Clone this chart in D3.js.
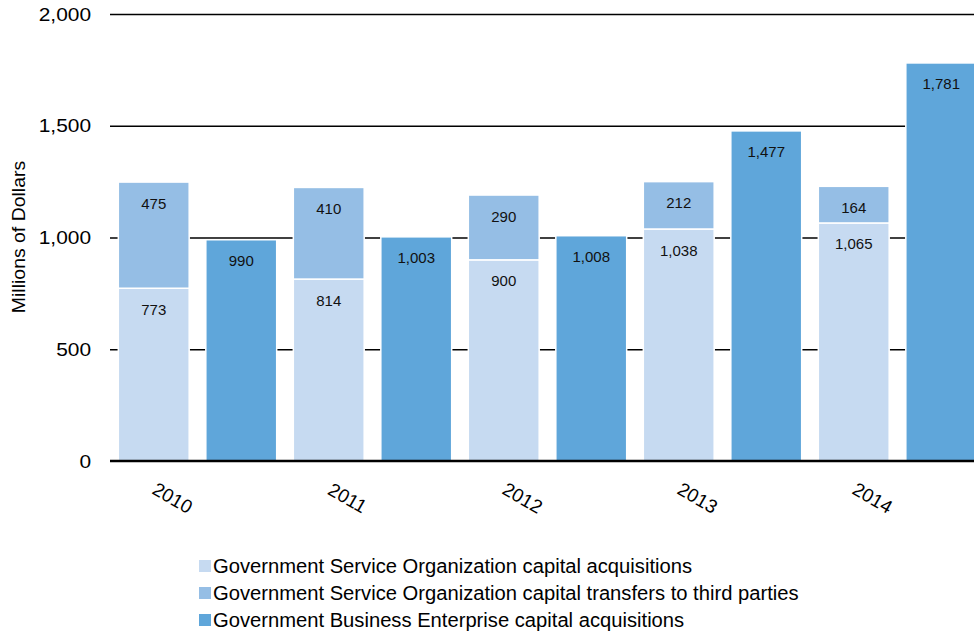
<!DOCTYPE html>
<html>
<head>
<meta charset="utf-8">
<script src="https://cdn.jsdelivr.net/npm/d3@7"></script>
<style>
  body { margin: 0; background: #fff; }
  svg { display: block; font-family: "Liberation Sans", Arial, sans-serif; }
</style>
</head>
<body>
<div id="chart"></div>
<script>
// chart data
const years = ["2010", "2011", "2012", "2013", "2014"];
const gsoAcquisitions = [773, 814, 900, 1038, 1065];
const gsoTransfers = [475, 410, 290, 212, 164];
const gbeAcquisitions = [990, 1003, 1008, 1477, 1781];
const yTicks = [0, 500, 1000, 1500, 2000];
const legendLabels = [
    "Government Service Organization capital acquisitions",
    "Government Service Organization capital transfers to third parties",
    "Government Business Enterprise capital acquisitions"
];
const colors = ["#c6daf1", "#95bee5", "#5fa6da"];

const width = 974, height = 634;

// the original text is set a bit wider than Liberation Sans, stretch it to match
function fit(sel, factor) {
    sel.each(function () {
        const w = this.getComputedTextLength();
        d3.select(this)
            .attr("textLength", w * factor)
            .attr("lengthAdjust", "spacingAndGlyphs");
    });
}

const svg = d3.select("#chart")
    .append("svg")
    .attr("width", width)
    .attr("height", height);

// scales
const x = d3.scaleBand()
    .domain(years)
    .range([110, 985]);

const xInner = d3.scaleBand()
    .domain(["stack", "gbe"])
    .range([0, x.bandwidth()])
    .paddingInner(0.19)
    .paddingOuter(0.095);

const y = d3.scaleLinear()
    .domain([0, 2000])
    .range([461, 14]);

const fmt = d3.format(",");

// gridlines + tick labels
const yAxis = d3.axisLeft(y)
    .tickValues(yTicks)
    .tickFormat(fmt)
    .tickSize(-(width - 110))
    .tickPadding(19);

const gy = svg.append("g")
    .attr("transform", "translate(110,0)")
    .call(yAxis);
gy.select(".domain").remove();
gy.selectAll(".tick line")
    .attr("stroke", "#000")
    .attr("stroke-width", 1.5)
    .filter(d => d === 0).remove();
gy.selectAll(".tick text")
    .attr("font-size", 19)
    .attr("fill", "#000")
    .attr("font-family", "Liberation Sans, Arial, sans-serif")
    .call(fit, 1.1);

// y axis title
svg.append("text")
    .attr("transform", "translate(25,237) rotate(-90)")
    .attr("text-anchor", "middle")
    .attr("font-size", 18)
    .attr("fill", "#000")
    .text("Millions of Dollars")
    .call(fit, 1.08);

// stacked bars
const rows = years.map((yr, i) => ({ year: yr, acq: gsoAcquisitions[i], trans: gsoTransfers[i], gbe: gbeAcquisitions[i] }));
const stack = d3.stack().keys(["acq", "trans"])(rows);

const groups = svg.selectAll("g.series")
    .data(stack)
    .enter().append("g")
    .attr("class", "series")
    .attr("fill", (d, i) => colors[i]);

groups.selectAll("rect")
    .data(d => d)
    .enter().append("rect")
    .attr("x", d => x(d.data.year) + xInner("stack"))
    .attr("y", d => y(d[1]))
    .attr("width", xInner.bandwidth())
    .attr("height", d => y(d[0]) - y(d[1]))
    .attr("stroke", "#fff")
    .attr("stroke-width", 1.5);

groups.selectAll("text")
    .data(d => d.map(v => ({ v, key: d.key })))
    .enter().append("text")
    .attr("x", d => x(d.v.data.year) + xInner("stack") + xInner.bandwidth() / 2)
    .attr("y", d => y(d.v[1]) + 26.5)
    .attr("text-anchor", "middle")
    .attr("font-size", 15)
    .attr("fill", "#111")
    .text(d => fmt(d.v.data[d.key]));

// GBE bars
svg.selectAll("rect.gbe")
    .data(rows)
    .enter().append("rect")
    .attr("class", "gbe")
    .attr("x", d => x(d.year) + xInner("gbe"))
    .attr("y", d => y(d.gbe))
    .attr("width", xInner.bandwidth())
    .attr("height", d => y(0) - y(d.gbe))
    .attr("fill", colors[2])
    .attr("stroke", "#fff")
    .attr("stroke-width", 1.5);

svg.selectAll("text.gbe-label")
    .data(rows)
    .enter().append("text")
    .attr("class", "gbe-label")
    .attr("x", d => x(d.year) + xInner("gbe") + xInner.bandwidth() / 2)
    .attr("y", d => y(d.gbe) + 26.5)
    .attr("text-anchor", "middle")
    .attr("font-size", 15)
    .attr("fill", "#111")
    .text(d => fmt(d.gbe));

// baseline
svg.append("line")
    .attr("x1", 110).attr("x2", width)
    .attr("y1", y(0)).attr("y2", y(0))
    .attr("stroke", "#000")
    .attr("stroke-width", 2.5);

// year labels, rotated
svg.selectAll("text.year")
    .data(years)
    .enter().append("text")
    .attr("class", "year")
    .attr("transform", d => `translate(${x(d) + x.bandwidth() / 2 - 25},498) rotate(30)`)
    .attr("text-anchor", "middle")
    .attr("dominant-baseline", "central")
    .attr("font-size", 19)
    .attr("fill", "#000")
    .text(d => d);

// legend
const legend = svg.selectAll("g.legend")
    .data(legendLabels)
    .enter().append("g")
    .attr("class", "legend")
    .attr("transform", (d, i) => `translate(199,${566 + i * 27})`);

legend.append("rect")
    .attr("x", 0).attr("y", -6)
    .attr("width", 12).attr("height", 12)
    .attr("fill", (d, i) => colors[i]);

legend.append("text")
    .attr("x", 14)
    .attr("dominant-baseline", "central")
    .attr("font-size", 19.5)
    .attr("fill", "#000")
    .text(d => d)
    .call(fit, 1.035);
</script>
</body>
</html>
